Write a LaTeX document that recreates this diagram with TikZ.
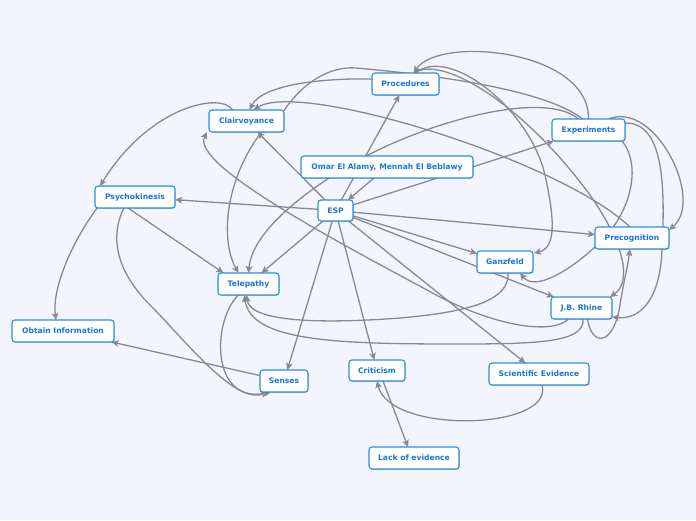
\documentclass[tikz,border=0pt]{standalone}
\usepackage{fontspec}
\setmainfont{DejaVu Sans}
\usetikzlibrary{arrows.meta,calc,shadows}
\definecolor{bgc}{RGB}{242,245,253}
\definecolor{bordc}{RGB}{45,140,230}
\definecolor{txtc}{RGB}{25,115,225}
\definecolor{linec}{RGB}{138,138,142}
\pgfdeclarelayer{bglayer}
\pgfdeclarelayer{edgelayer}
\pgfsetlayers{bglayer,edgelayer,main}
\tikzset{
 box/.style={draw=bordc, line width=1.1pt, fill=white, rounded corners=3pt, minimum height=22pt, inner sep=0pt, outer sep=0pt, text=txtc, font=\bfseries\fontsize{7.6}{9}\selectfont, drop shadow={shadow xshift=0.6pt, shadow yshift=-0.9pt, opacity=0.2, fill=black}},
 conn/.style={draw=linec, line width=1.3pt, -{Stealth[length=7pt,width=6.5pt,inset=1.5pt]}},
 plain/.style={draw=linec, line width=1.3pt},
}
\begin{document}
\begin{tikzpicture}[x=1pt,y=-1pt]
\begin{pgfonlayer}{bglayer}
\fill[bgc] (0,0) rectangle (696,520);
\end{pgfonlayer}
\useasboundingbox (0,0) rectangle (696,520);

\node[box, minimum width=67pt] (proc) at (405.5,84) {Procedures};
\node[box, minimum width=75pt] (clair) at (246.5,121) {Clairvoyance};
\node[box, minimum width=73pt] (exp) at (588.5,130) {Experiments};
\node[box, minimum width=172pt] (omar) at (387,167) {Omar El Alamy, Mennah El Beblawy};
\node[box, minimum width=80pt] (psy) at (135,197) {Psychokinesis};
\node[box, minimum width=35pt, minimum height=21pt] (esp) at (335.5,210.5) {ESP};
\node[box, minimum width=74pt] (prec) at (632,238) {Precognition};
\node[box, minimum width=56pt] (ganz) at (505,262) {Ganzfeld};
\node[box, minimum width=61pt] (tele) at (248.5,284) {Telepathy};
\node[box, minimum width=61pt] (jb) at (581.5,308) {J.B. Rhine};
\node[box, minimum width=102pt] (obt) at (63,331) {Obtain Information};
\node[box, minimum width=56pt, minimum height=21pt] (crit) at (377,370.5) {Criticism};
\node[box, minimum width=100pt] (sci) at (539,374) {Scientific Evidence};
\node[box, minimum width=48pt] (sens) at (284,381) {Senses};
\node[box, minimum width=90pt] (lack) at (414,458) {Lack of evidence};

\begin{pgfonlayer}{edgelayer}
\draw[conn] (esp) -- (psy);
\draw[conn] (esp) -- (clair);
\draw[conn] (esp) -- (tele);
\draw[conn] (esp) -- (proc);
\draw[conn] (esp) -- (exp);
\draw[conn] (esp) -- (prec);
\draw[conn] (esp) -- (ganz);
\draw[conn] (esp) -- (jb);
\draw[conn] (esp) -- (sci);
\draw[conn] (esp) -- (crit);
\draw[conn] (esp) -- (sens);
\draw[conn] (omar) -- (esp);
\draw[conn] (sens) -- (obt);
\draw[conn] ($(psy.south)+(-7,0)$) -- ($(tele.north)+(-25,0)$);
\draw[conn] ($(crit.south)+(6,0)$) -- ($(lack.north)+(-6,0)$);

\draw[conn] ($(sci.south)+(3,0)$) .. controls (555,430) and (390,435) .. (crit.south);
\draw[conn] ($(clair.north)+(-14,0)$) .. controls (222,92) and (150,105) .. ($(psy.north west)+(5,0)$);
\draw[conn] ($(psy.south west)+(2,0)$) .. controls (70,245) and (52,290) .. ($(obt.north)+(-7,0)$);
\draw[conn] ($(psy.south)+(-11,0)$) .. controls (110,235) and (115,270) .. (150,305) .. controls (185,340) and (235,405) .. ($(sens.south)+(-16,0)$);
\draw[conn] ($(tele.south)+(-10,0)$) .. controls (212,320) and (210,405) .. ($(sens.south)+(-13,0)$);
\draw[conn] ($(clair.south)+(15,0)$) .. controls (225,180) and (220,240) .. ($(tele.north)+(-10,0)$);
\draw[conn] ($(exp.north)+(-10,0)$) .. controls (545,90) and (430,120) .. (355,162) .. controls (295,197) and (252,235) .. (tele.north);
\draw[plain] ($(clair.north east)+(-1,2)$) .. controls (303,82) and (330,66) .. (356,68) .. controls (400,72) and (540,85) .. ($(exp.north)+(-6,0)$);
\draw[conn] ($(proc.west)+(0,-5)$) .. controls (320,78) and (262,85) .. ($(clair.north)+(3,0)$);
\draw[conn] ($(prec.north)+(-2,0)$) .. controls (560,160) and (300,80) .. ($(clair.north)+(7,0)$);
\draw[conn] ($(jb.south)+(-13,0)$) .. controls (555,333) and (505,330) .. (440,297) .. controls (340,243) and (190,165) .. ($(clair.south west)+(-2,0)$);
\draw[conn] (exp.north) .. controls (590,50) and (440,35) .. ($(proc.north)+(8,0)$);
\draw[conn] ($(proc.north)+(10,0)$) .. controls (450,45) and (530,110) .. (545,175) .. controls (555,220) and (556,248) .. ($(ganz.north east)+(1,2)$);
\draw[conn] ($(proc.north)+(9,0)$) .. controls (440,55) and (520,100) .. (590,195) .. controls (625,245) and (632,282) .. ($(jb.north east)+(-2,0)$);
\draw[conn] ($(exp.south east)+(-3,0)$) .. controls (642,165) and (632,215) .. (595,247) .. controls (570,270) and (535,292) .. ($(ganz.south)+(15,0)$);
\draw[conn] ($(exp.north)+(20,0)$) .. controls (655,100) and (705,200) .. ($(prec.north east)+(0,3)$);
\draw[conn] ($(exp.north east)+(0,4)$) .. controls (665,122) and (665,190) .. (662,250) .. controls (660,300) and (640,320) .. ($(jb.south east)+(0,-2)$);
\draw[conn] ($(jb.south)+(6,0)$) .. controls (592,348) and (614,345) .. (620,305) .. controls (624,280) and (628,265) .. ($(prec.south)+(-2,0)$);
\draw[conn] ($(ganz.south)+(3,0)$) .. controls (510,300) and (470,312) .. (400,318) .. controls (320,324) and (250,322) .. ($(tele.south)+(-2,0)$);
\draw[conn] ($(jb.south)+(1.5,0)$) .. controls (585,342) and (540,344) .. (460,344) .. controls (340,344) and (250,342) .. ($(tele.south)+(-4,0)$);
\end{pgfonlayer}
\end{tikzpicture}
\end{document}
